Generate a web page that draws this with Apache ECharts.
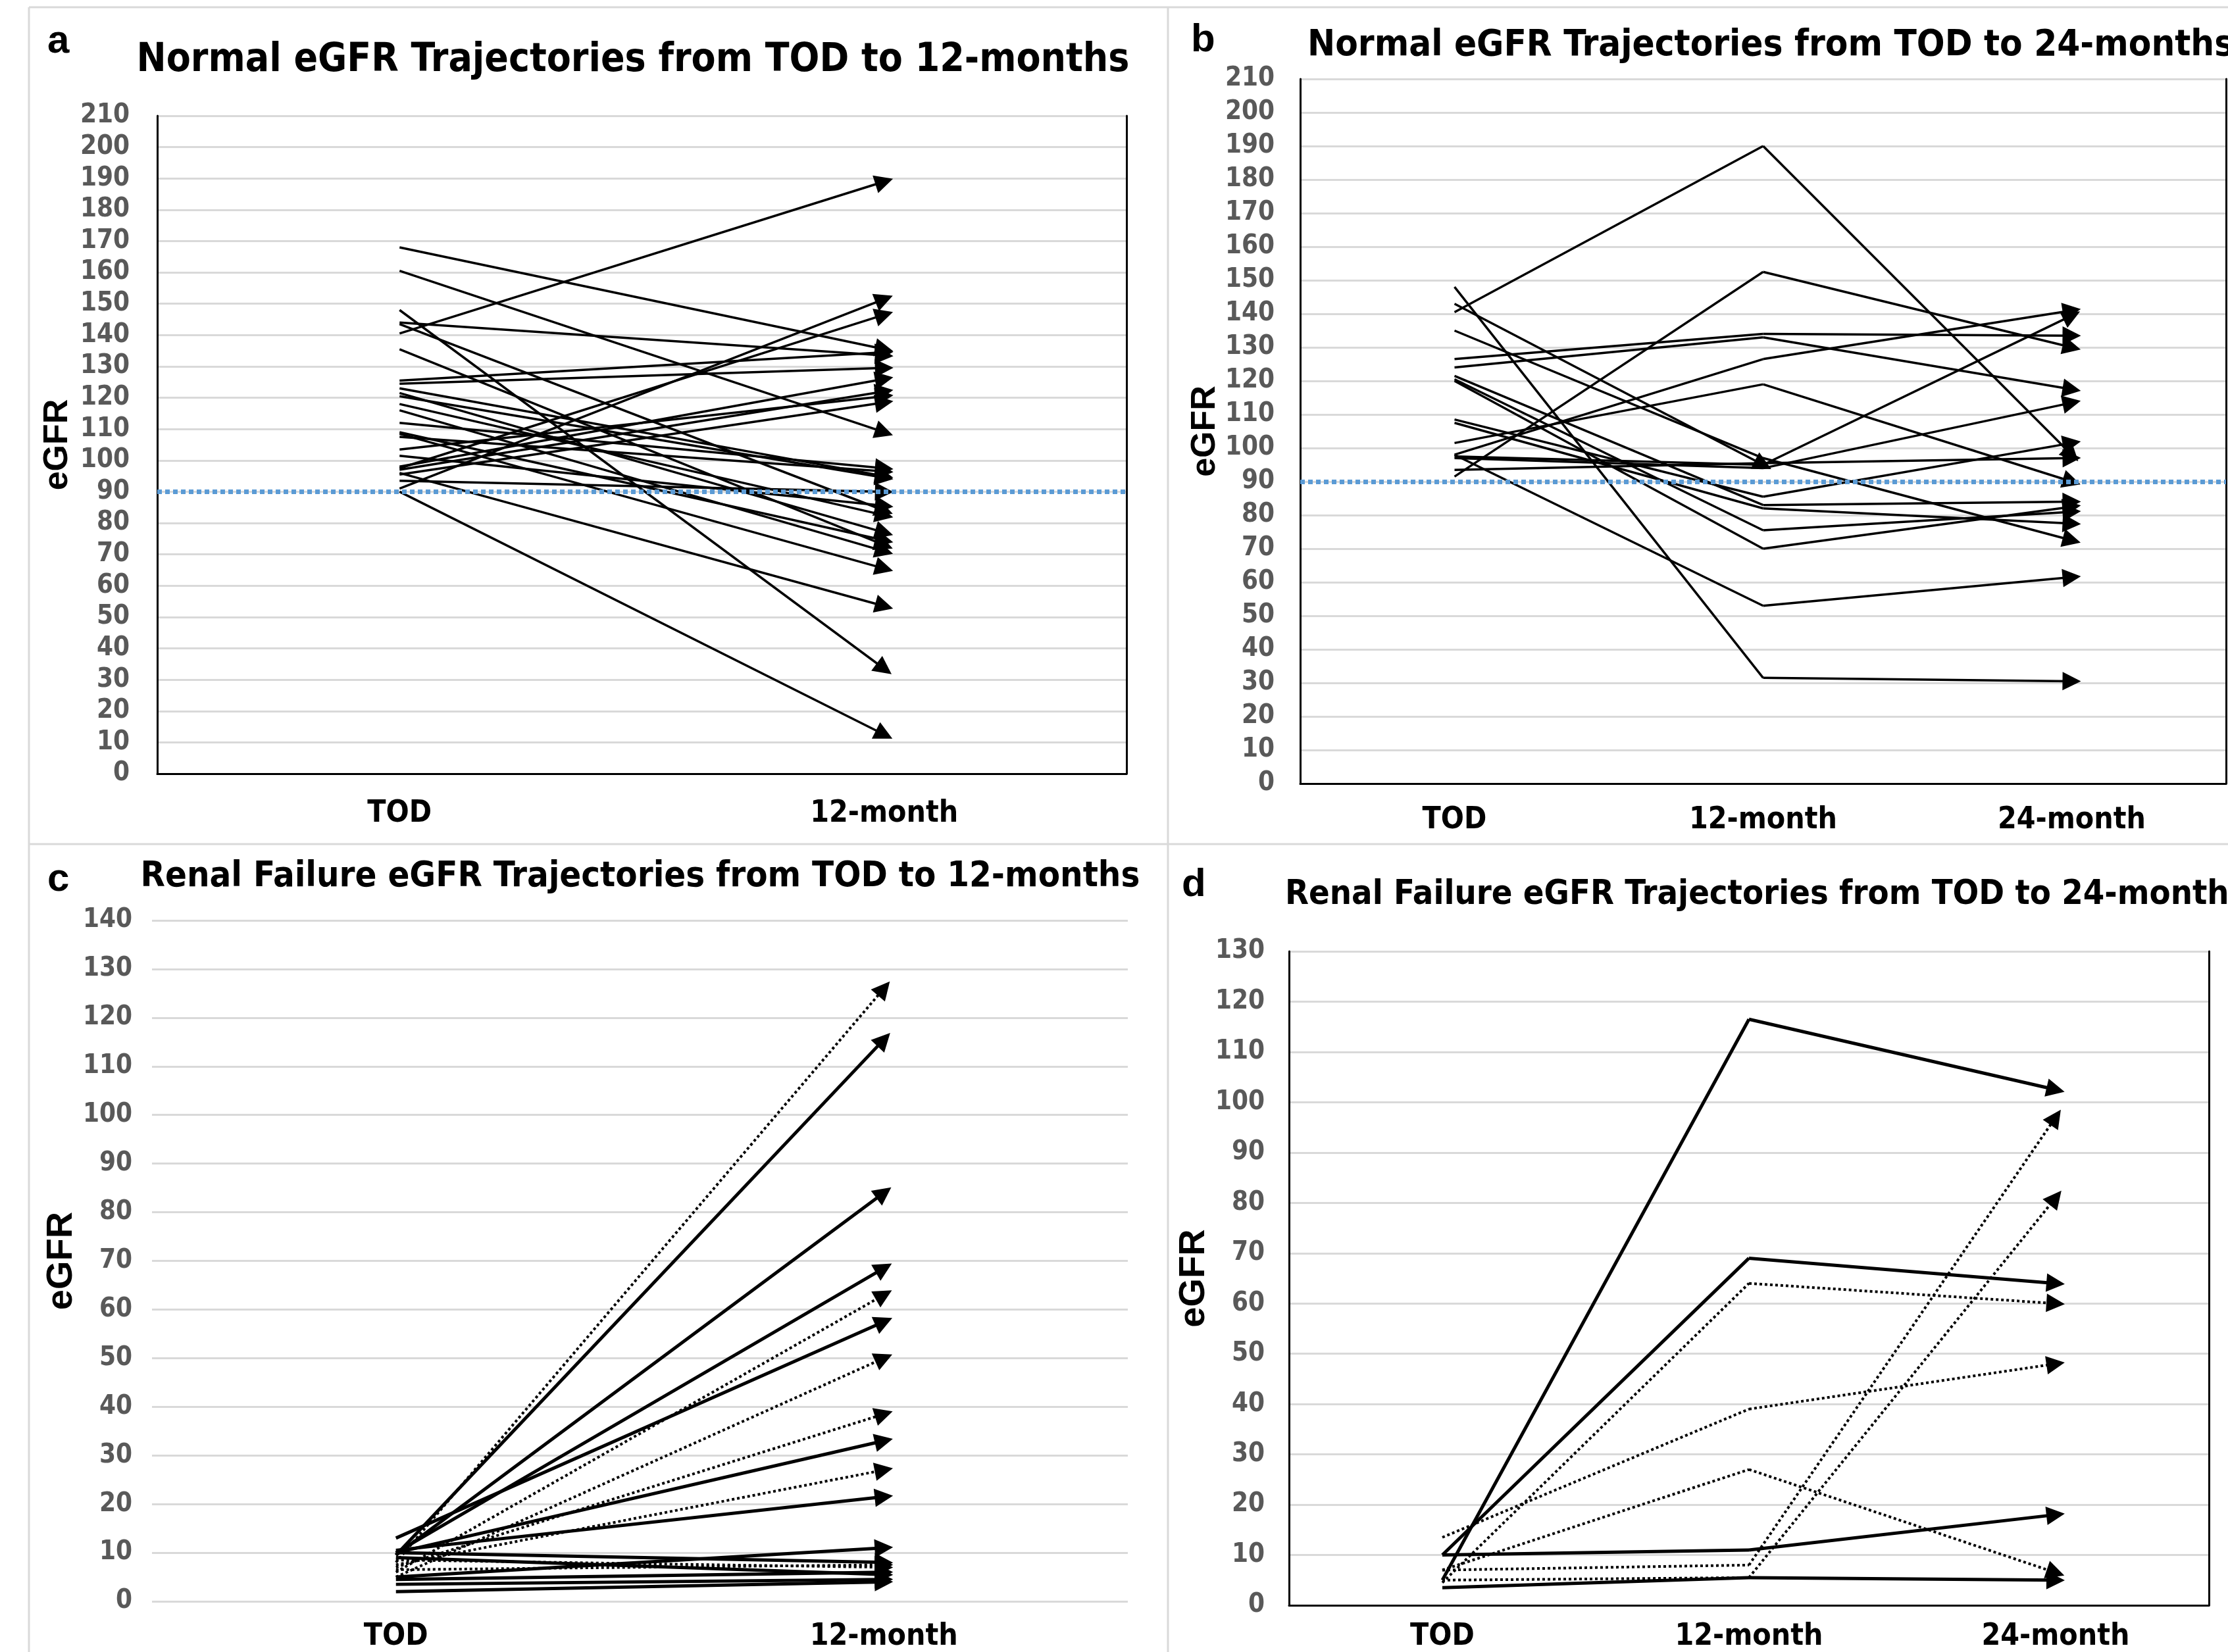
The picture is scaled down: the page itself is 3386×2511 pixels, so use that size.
<!DOCTYPE html>
<html>
<head>
<meta charset="utf-8">
<script src="https://cdn.jsdelivr.net/npm/echarts@6/dist/echarts.min.js"></script>
<style>
  html, body { margin: 0; padding: 0; background: #fff; }
  #chart { width: 3386px; height: 2511px; }
</style>
</head>
<body>
<div id="chart"></div>
<script>
// categories
const catsA = ['TOD', '12-month']
const catsB = ['TOD', '12-month', '24-month']

// a: normal eGFR, TOD -> 12-month
const todA = [168, 160.5, 148, 144, 143.5, 140.5, 135.5, 125.5, 124.5, 123, 121.5, 120.5, 118, 116, 112, 109, 108.5, 107.5, 103.5, 101.5, 98, 97.5, 97, 96, 95.5, 93.5, 91, 90]
const m12A = [135.5, 109, 33.5, 133.5, 84, 189, 73, 134.5, 129.5, 95, 77, 94.5, 82.5, 71, 97.5, 74.5, 65.5, 96.5, 120.5, 85.5, 126, 146.5, 122, 53.5, 118.5, 90, 151.5, 12.5]

// b: normal eGFR, TOD -> 12-month -> 24-month (null = no value)
const todB = [148, 143, 140.5, 135, 126.5, 124, 121.5, 120.5, 120, 108.5, 107.5, 101.5, 98, 98, 93.5, 97, 91.5, 97.5]
const m12B = [31.5, 95, 190, 97, 134, 133, 83, 75.5, 70, 85.5, 82, 119, 126.5, 53, 95.5, 94, 152.5, 95]
const m24B = [30.5, null, 98, 72.5, 133.5, 117.5, 84, 81, 82.5, 101.5, 77.5, 90, 141, 61.5, 97, 113.5, 130, 139.5]

// c: renal failure, TOD -> 12-month
const todC = [9.5, 9.5, 10, 13, 10, 10.5, 5, 10, 2, 4.5, 9, 3.5, 8, 6, 5, 7, 7.5, 6.5, 8.5]
const m12C = [115.5, 84, 68.5, 57.5, 33, 21.5, 11, 8, 4, 6, 5.5, 4.5, 126, 63, 50, 38.5, 27, 7.5, 7]
const dashC = [0, 0, 0, 0, 0, 0, 0, 0, 0, 0, 0, 0, 1, 1, 1, 1, 1, 1, 1]

// d: renal failure, TOD -> 12-month -> 24-month
const todD = [5, 10, 10, 3.5, 13.5, 4.5, 7, 7, 5]
const m12D = [116.5, 69, 11, 5.5, 39, 64, 27, 8, 5.5]
const m24D = [102.5, 64, 18, 5, 48, 60, 6.5, 97, 81]
const dashD = [0, 0, 0, 0, 1, 1, 1, 1, 1]

const NARROW = '"Liberation Sans Narrow", "DejaVu Sans Condensed", sans-serif'
const SANS = '"Liberation Sans", Arial, sans-serif'

// turn value columns into arrow segments, arrow only on the last one
function buildSegs (cols, keep) {
  const out = []
  for (let i = 0; i < cols[0].length; i++) {
    if (keep && !keep(i)) continue
    const pts = []
    cols.forEach((col, k) => {
      if (col[i] != null) pts.push([k, col[i]])
    })
    for (let s = 0; s < pts.length - 1; s++) {
      out.push({
        coords: [pts[s], pts[s + 1]],
        symbol: ['none', s === pts.length - 2 ? 'triangle' : 'none']
      })
    }
  }
  return out
}

function linesSeries (idx, data, width, dotted, arrow) {
  return {
    type: 'lines',
    coordinateSystem: 'cartesian2d',
    xAxisIndex: idx,
    yAxisIndex: idx,
    symbol: ['none', 'triangle'],
    symbolSize: arrow,
    silent: true,
    z: 3,
    lineStyle: {
      color: '#000',
      width: width,
      opacity: 1,
      curveness: 0,
      type: dotted ? 'dotted' : 'solid'
    },
    data: data
  }
}

function threshold (idx) {
  return {
    type: 'line',
    xAxisIndex: idx,
    yAxisIndex: idx,
    data: [],
    z: 5,
    markLine: {
      silent: true,
      symbol: 'none',
      label: { show: false },
      lineStyle: { color: '#5B9BD5', width: 7, type: [7, 5] },
      data: [{ yAxis: 90 }]
    }
  }
}

const grids = [
  { left: 239, top: 176, width: 1473, height: 1000 },
  { left: 1976, top: 120, width: 1407, height: 1071 },
  { left: 231, top: 1399, width: 1483, height: 1040 },
  { left: 1959, top: 1446, width: 1398, height: 1001 }
]
const yMax = [210, 210, 140, 130]
const xMargin = [38, 33, 31, 25]
const yMargin = [42, 39, 30, 37]
const nameGap = [125, 116, 106, 114]
const nameSize = [52, 52, 56, 56]
const boxed = [true, true, false, true]
const cats = [catsA, catsB, catsA, catsB]

const xAxis = []
const yAxis = []
grids.forEach((g, i) => {
  xAxis.push({
    type: 'category',
    gridIndex: i,
    data: cats[i],
    boundaryGap: true,
    axisLine: { show: false },
    axisTick: { show: false },
    axisLabel: { margin: xMargin[i], color: '#000', fontWeight: 'bold', fontSize: 46, fontFamily: NARROW }
  })
  yAxis.push({
    type: 'value',
    gridIndex: i,
    min: 0,
    max: yMax[i],
    interval: 10,
    name: 'eGFR',
    nameLocation: 'middle',
    nameGap: nameGap[i],
    nameTextStyle: { color: '#000', fontWeight: 'bold', fontSize: nameSize[i], fontFamily: SANS },
    axisLine: { show: boxed[i], lineStyle: { color: '#000', width: 3 } },
    axisTick: { show: false },
    splitLine: { lineStyle: { color: '#d9d9d9', width: 3 } },
    axisLabel: { margin: yMargin[i], color: '#595959', fontWeight: 'bold', fontSize: 40, fontFamily: NARROW }
  })
})
// top and right frame lines for the boxed panels
grids.forEach((g, i) => {
  if (!boxed[i]) return
  xAxis.push({
    type: 'category', gridIndex: i, position: 'top', data: cats[i],
    axisLine: { show: true, lineStyle: { color: '#000', width: 3 } },
    axisTick: { show: false }, axisLabel: { show: false }
  })
  yAxis.push({
    type: 'value', gridIndex: i, position: 'right', min: 0, max: yMax[i],
    axisLine: { show: true, lineStyle: { color: '#000', width: 3 } },
    axisTick: { show: false }, axisLabel: { show: false }, splitLine: { show: false }
  })
})

const titleStyle = { color: '#000', fontWeight: 'bold', fontFamily: NARROW }
const letterStyle = { color: '#000', fontWeight: 'bold', fontSize: 60, fontFamily: SANS }

const option = {
  animation: false,
  backgroundColor: '#fff',
  title: [
    { text: 'a', left: 72, top: 33, padding: 0, textStyle: letterStyle },
    { text: 'b', left: 1810, top: 31, padding: 0, textStyle: letterStyle },
    { text: 'c', left: 72, top: 1307, padding: 0, textStyle: letterStyle },
    { text: 'd', left: 1796, top: 1315, padding: 0, textStyle: letterStyle },
    { text: 'Normal eGFR Trajectories from TOD to 12-months', left: 962, textAlign: 'center', top: 62, padding: 0, textStyle: Object.assign({ fontSize: 60 }, titleStyle) },
    { text: 'Normal eGFR Trajectories from TOD to 24-months', left: 1987, top: 41, padding: 0, textStyle: Object.assign({ fontSize: 56 }, titleStyle) },
    { text: 'Renal Failure eGFR Trajectories from TOD to 12-months', left: 973, textAlign: 'center', top: 1306, padding: 0, textStyle: Object.assign({ fontSize: 54 }, titleStyle) },
    { text: 'Renal Failure eGFR Trajectories from TOD to 24-months', left: 1953, top: 1334, padding: 0, textStyle: Object.assign({ fontSize: 52 }, titleStyle) }
  ],
  grid: grids,
  xAxis: xAxis,
  yAxis: yAxis,
  graphic: [
    { type: 'line', shape: { x1: 44, y1: 11, x2: 3386, y2: 11 }, style: { stroke: '#d9d9d9', lineWidth: 3 } },
    { type: 'line', shape: { x1: 44, y1: 1283, x2: 3386, y2: 1283 }, style: { stroke: '#d9d9d9', lineWidth: 3 } },
    { type: 'line', shape: { x1: 44, y1: 11, x2: 44, y2: 2511 }, style: { stroke: '#d9d9d9', lineWidth: 3 } },
    { type: 'line', shape: { x1: 1775, y1: 11, x2: 1775, y2: 2511 }, style: { stroke: '#d9d9d9', lineWidth: 3 } }
  ],
  series: [
    linesSeries(0, buildSegs([todA, m12A]), 3.5, false, [22, 28]),
    threshold(0),
    linesSeries(1, buildSegs([todB, m12B, m24B]), 3.5, false, [22, 28]),
    threshold(1),
    linesSeries(2, buildSegs([todC, m12C], i => !dashC[i]), 5, false, [24, 28]),
    linesSeries(2, buildSegs([todC, m12C], i => dashC[i]), 4, true, [24, 28]),
    linesSeries(3, buildSegs([todD, m12D, m24D], i => !dashD[i]), 5, false, [24, 28]),
    linesSeries(3, buildSegs([todD, m12D, m24D], i => dashD[i]), 4, true, [24, 28])
  ]
}

const chart = echarts.init(document.getElementById('chart'))
chart.setOption(option)
window.addEventListener('resize', () => {
  chart.resize()
})
</script>
</body>
</html>
